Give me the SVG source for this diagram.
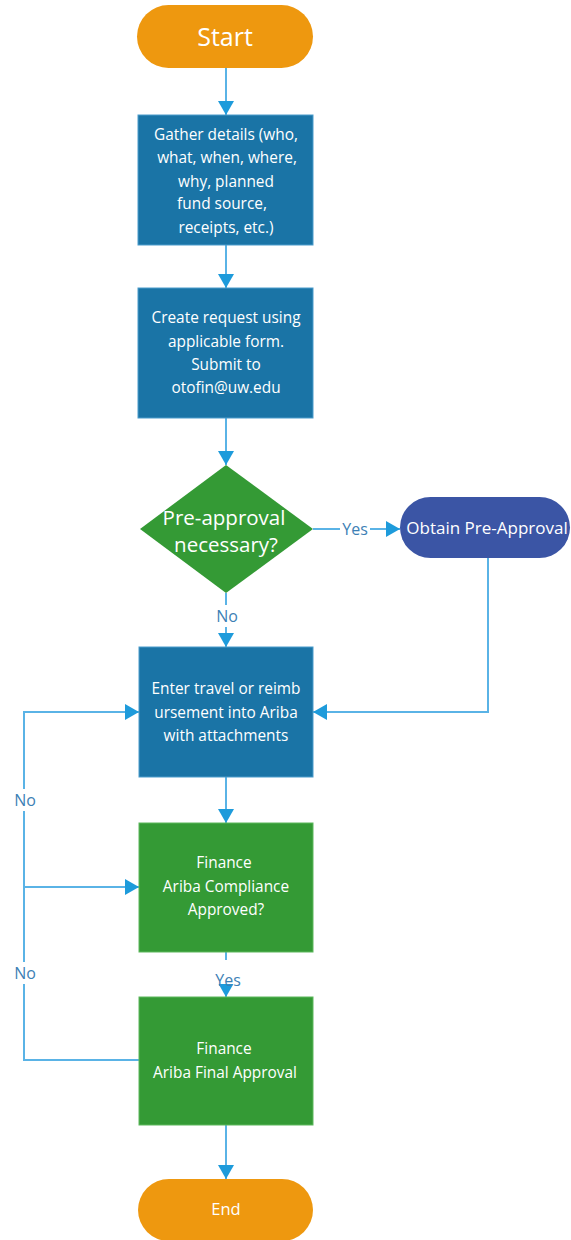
<svg xmlns="http://www.w3.org/2000/svg" width="571" height="1240" viewBox="0 0 571 1240">
<style>
.t{font-family:"Open Sans","Noto Sans",sans-serif;fill:#ffffff;text-anchor:middle;font-size:15.4px}
.lbl{font-family:"Open Sans","Noto Sans",sans-serif;fill:#3d7fb5;text-anchor:middle;font-size:16px}
.c{fill:none;stroke:#5ab3e6;stroke-width:2}
.blue{fill:#1a74a6;stroke:#4a9ccc;stroke-width:1}
.green{fill:#349a35;stroke:#5cb85c;stroke-width:1}
.orange{fill:#ee980f}
</style>
<defs>
<marker id="ah" markerUnits="userSpaceOnUse" markerWidth="16" markerHeight="16" refX="14" refY="8" orient="auto">
<path d="M0,0 L14,8 L0,16 z" fill="#1e9bdb"/>
</marker>
</defs>
<rect width="571" height="1240" fill="#ffffff"/>
<g id="connectors">
<path class="c" d="M226 68 V115" marker-end="url(#ah)"/>
<path class="c" d="M226 245 V288" marker-end="url(#ah)"/>
<path class="c" d="M226 418 V465" marker-end="url(#ah)"/>
<path class="c" d="M226 593 V647" marker-end="url(#ah)"/>
<path class="c" d="M313 529 H400" marker-end="url(#ah)"/>
<path class="c" d="M488 558 V712 H313" marker-end="url(#ah)"/>
<path class="c" d="M226 777 V823" marker-end="url(#ah)"/>
<path class="c" d="M226 952 V997" marker-end="url(#ah)"/>
<path class="c" d="M226 1125 V1179" marker-end="url(#ah)"/>
<path class="c" d="M139 1060 H24 V712 H139" marker-end="url(#ah)"/>
<path class="c" d="M24 887 H139" marker-end="url(#ah)"/>
<rect x="213" y="605" width="27" height="22" fill="#ffffff"/>
<text class="lbl" x="227" y="622">No</text>
<rect x="340" y="519" width="30" height="20" fill="#ffffff"/>
<text class="lbl" x="355" y="535">Yes</text>
<rect x="212" y="960" width="32" height="24" fill="#ffffff"/>
<text class="lbl" x="228" y="986">Yes</text>
<rect x="11" y="789" width="28" height="22" fill="#ffffff"/>
<text class="lbl" x="25" y="806">No</text>
<rect x="11" y="962" width="28" height="22" fill="#ffffff"/>
<text class="lbl" x="25" y="979">No</text>
</g>
<g id="start">
<rect class="orange" x="137" y="5" width="176" height="63" rx="31.5"/>
<text class="t" x="225" y="46" style="font-size:25px">Start</text>
</g>
<g id="gather">
<rect class="blue" x="138" y="115" width="175" height="130"/>
<text class="t" x="226" y="140">Gather details (who,</text>
<text class="t" x="227" y="163">what, when, where,</text>
<text class="t" x="226" y="187">why, planned</text>
<text class="t" x="222" y="209">fund source,</text>
<text class="t" x="226" y="233">receipts, etc.)</text>
</g>
<g id="create">
<rect class="blue" x="138" y="288" width="175" height="130"/>
<text class="t" x="226" y="323">Create request using</text>
<text class="t" x="226" y="347">applicable form.</text>
<text class="t" x="226" y="370">Submit to</text>
<text class="t" x="226" y="393">otofin@uw.edu</text>
</g>
<g id="decision">
<polygon points="226,465 313,529 226,593 140,529" fill="#349a35"/>
<text class="t" x="224" y="525" style="font-size:20.5px">Pre-approval</text>
<text class="t" x="226" y="552" style="font-size:20.5px">necessary?</text>
</g>
<g id="obtain">
<rect x="400" y="497" width="170" height="61" rx="30.5" fill="#3b55a5"/>
<text class="t" x="487" y="534" style="font-size:17px">Obtain Pre-Approval</text>
</g>
<g id="enter">
<rect class="blue" x="139" y="647" width="174" height="130"/>
<text class="t" x="226" y="694">Enter travel or reimb</text>
<text class="t" x="226" y="718">ursement into Ariba</text>
<text class="t" x="226" y="741">with attachments</text>
</g>
<g id="compliance">
<rect class="green" x="139" y="823" width="174" height="129"/>
<text class="t" x="224" y="868">Finance</text>
<text class="t" x="226" y="892">Ariba Compliance</text>
<text class="t" x="226" y="915">Approved?</text>
</g>
<g id="final">
<rect class="green" x="139" y="997" width="174" height="128"/>
<text class="t" x="224" y="1054">Finance</text>
<text class="t" x="225" y="1078">Ariba Final Approval</text>
</g>
<g id="end">
<rect class="orange" x="138" y="1179" width="175" height="62" rx="31"/>
<text class="t" x="226" y="1215" style="font-size:16.5px">End</text>
</g>
</svg>
